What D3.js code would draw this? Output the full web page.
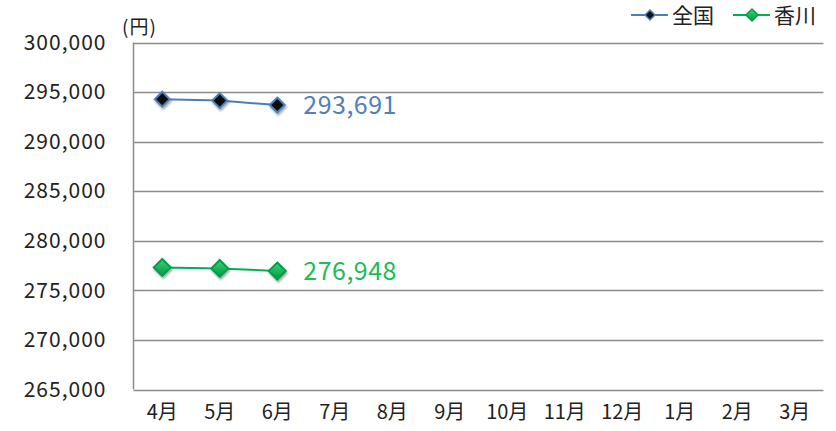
<!DOCTYPE html>
<html>
<head>
<meta charset="utf-8">
<script src="https://cdn.jsdelivr.net/npm/d3@7"></script>
<style>
  body { margin: 0; padding: 0; background: #fff; }
  text { font-family: "Noto Sans CJK JP", "Noto Sans", sans-serif; }
</style>
</head>
<body>
<div id="main"></div>
<script>
const months = ['4月', '5月', '6月', '7月', '8月', '9月', '10月', '11月', '12月', '1月', '2月', '3月'];
const zenkoku = [294280, 294140, 293691];
const kagawa = [277310, 277210, 276948];
const yTicks = [265000, 270000, 275000, 280000, 285000, 290000, 295000, 300000];
const seriesNames = ['全国', '香川'];

const WIDTH = 836, HEIGHT = 431;
const PLOT = {left: 133.5, right: 823.5, top: 42.5, bottom: 389.5};

const svg = d3.select('#main').append('svg')
    .attr('width', WIDTH)
    .attr('height', HEIGHT);

const defs = svg.append('defs');
const shadow = defs.append('filter').attr('id', 'shadow').attr('x', '-50%').attr('y', '-50%').attr('width', '200%').attr('height', '200%');
shadow.append('feDropShadow').attr('dx', 1).attr('dy', 2).attr('stdDeviation', 1.2).attr('flood-color', '#000').attr('flood-opacity', 0.35);
const greenGrad = defs.append('linearGradient').attr('id', 'greenGrad').attr('x1', 0).attr('y1', 0).attr('x2', 0).attr('y2', 1);
greenGrad.append('stop').attr('offset', '0%').attr('stop-color', '#3fd47a');
greenGrad.append('stop').attr('offset', '100%').attr('stop-color', '#00963f');

const scaleX = d3.scaleBand().domain(months).range([PLOT.left, PLOT.right]);
const scaleY = d3.scaleLinear().domain([265000, 300000]).range([PLOT.bottom, PLOT.top]);

// gridlines
svg.append('g').selectAll('line').data(yTicks).enter().append('line')
    .attr('x1', PLOT.left)
    .attr('x2', PLOT.right)
    .attr('y1', (d) => Math.round(scaleY(d)) + 0.5)
    .attr('y2', (d) => Math.round(scaleY(d)) + 0.5)
    .attr('stroke', '#8c8c8c')
    .attr('stroke-width', 1.5);
svg.append('line')
    .attr('x1', PLOT.left).attr('x2', PLOT.left)
    .attr('y1', PLOT.top).attr('y2', PLOT.bottom)
    .attr('stroke', '#8c8c8c').attr('stroke-width', 1.5);

// y axis labels
const axisY = d3.axisLeft(scaleY).tickValues(yTicks).tickFormat(d3.format(',')).tickSize(0).tickPadding(27);
const gy = svg.append('g').attr('transform', `translate(${PLOT.left}, 0)`).call(axisY);
gy.select('.domain').remove();
gy.selectAll('text').attr('font-size', 21).attr('fill', '#222').attr('letter-spacing', '1px')
    .style('font-family', '"Noto Sans CJK JP", sans-serif');

svg.append('text')
    .attr('x', 122).attr('y', 34)
    .attr('font-size', 19).attr('fill', '#222').attr('letter-spacing', '1px')
    .text('(円)');

// x axis labels
const axisX = d3.axisBottom(scaleX).tickSize(0).tickPadding(15);
const gx = svg.append('g').attr('transform', `translate(0, ${PLOT.bottom})`).call(axisX);
gx.select('.domain').remove();
gx.selectAll('text').attr('font-size', 20).attr('fill', '#222')
    .style('font-family', '"Noto Sans CJK JP", sans-serif');

const cx = (i) => scaleX(months[i]) + scaleX.bandwidth() / 2;
const line = d3.line().x((d, i) => cx(i)).y((d) => scaleY(d));
const diamond = (s) => `M0,${-s}L${s},0L0,${s}L${-s},0Z`;

const drawSeries = (data, stroke, fill, markerStroke, size) => {
    svg.append('path').datum(data)
        .attr('d', line)
        .attr('fill', 'none')
        .attr('stroke', stroke)
        .attr('stroke-width', 2);
    svg.append('g').selectAll('path').data(data).enter().append('path')
        .attr('transform', (d, i) => `translate(${cx(i)}, ${scaleY(d)})`)
        .attr('d', diamond(size))
        .attr('fill', fill)
        .attr('stroke', markerStroke)
        .attr('stroke-width', 2)
        .attr('filter', 'url(#shadow)');
};

drawSeries(zenkoku, '#4a7ebb', '#111', '#4f81bd', 7.5);
drawSeries(kagawa, '#00b050', 'url(#greenGrad)', '#00a048', 8.5);

// end value labels
const lastIdx = zenkoku.length - 1;
svg.append('text')
    .attr('x', cx(lastIdx) + 26)
    .attr('y', scaleY(zenkoku[lastIdx]) + 9)
    .attr('font-size', 25).attr('fill', '#4f81bd').attr('letter-spacing', '0.5px')
    .text(d3.format(',')(zenkoku[lastIdx]));
svg.append('text')
    .attr('x', cx(lastIdx) + 26)
    .attr('y', scaleY(kagawa[lastIdx]) + 9)
    .attr('font-size', 25).attr('fill', '#1ebc5a').attr('letter-spacing', '0.5px')
    .text(d3.format(',')(kagawa[lastIdx]));

// legend
const legend = svg.append('g').attr('id', 'legend');
const legendItems = [
    {name: seriesNames[0], x: 631, stroke: '#4a7ebb', fill: '#111', mstroke: '#4f81bd', size: 5},
    {name: seriesNames[1], x: 733, stroke: '#00b050', fill: 'url(#greenGrad)', mstroke: '#00a048', size: 6}
];
legendItems.forEach((it) => {
    legend.append('line')
        .attr('x1', it.x).attr('x2', it.x + 37)
        .attr('y1', 15).attr('y2', 15)
        .attr('stroke', it.stroke).attr('stroke-width', 2);
    legend.append('path')
        .attr('transform', `translate(${it.x + 19}, 15)`)
        .attr('d', diamond(it.size))
        .attr('fill', it.fill)
        .attr('stroke', it.mstroke)
        .attr('stroke-width', 1.5);
    legend.append('text')
        .attr('x', it.x + 41).attr('y', 23)
        .attr('font-size', 21).attr('fill', '#222')
        .text(it.name);
});
</script>
</body>
</html>
